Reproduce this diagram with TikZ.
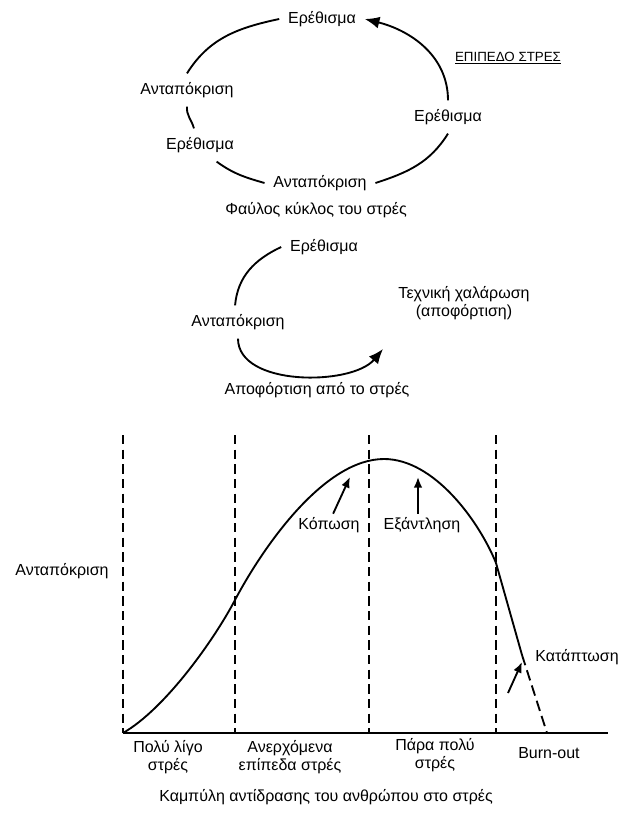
\documentclass[tikz,border=0pt]{standalone}
\usepackage{fontspec}
\setmainfont{Liberation Sans}
\usetikzlibrary{arrows.meta}

\tikzset{
  lbl/.style={inner sep=6pt},
  txt/.style={inner sep=2pt, align=center},
  bigtip/.style={-{Latex[length=11pt,width=9pt]}},
  smalltip/.style={-{Latex[length=8pt,width=6.5pt]}},
  zone/.style={dash pattern=on 7pt off 4pt, line width=1.1pt},
}

\begin{document}
\begin{tikzpicture}[x=0.75pt, y=0.75pt, line width=1.4pt, font=\fontsize{12}{14}\selectfont]
\useasboundingbox (0,0) rectangle (622,-813);

% vicious circle
\node[lbl] (stimA) at (322,-19) {Ερέθισμα};
\node[lbl] (respA) at (187,-90) {Ανταπόκριση};
\node[lbl] (stimB) at (200,-145) {Ερέθισμα};
\node[lbl] (respB) at (320,-183) {Ανταπόκριση};
\node[lbl] (stimC) at (448,-117) {Ερέθισμα};
\node[txt] (viciousCap) at (316,-210) {Φαύλος κύκλος του στρές};
\node[txt, font=\fontsize{10}{12}\selectfont] (level) at (508,-58) {\underline{ΕΠΙΠΕΔΟ ΣΤΡΕΣ}};

\draw (stimA.west) to[out=192, in=58] (respA.north);
\draw (respA.south) to[out=-95, in=105] (stimB.110);
\draw (stimB.-45) to[out=-36, in=164] (respB.west);
\draw (respB.east) to[out=18, in=-122] (stimC.south);
\draw[bigtip] (stimC.north) to[out=90, in=-14] (stimA.east);

% relief
\node[lbl] (stimR) at (324,-247) {Ερέθισμα};
\node[lbl] (respR) at (238,-322) {Ανταπόκριση};
\node[txt] (relax) at (464,-303) {Τεχνική χαλάρωση\\(αποφόρτιση)};
\node[txt] (reliefCap) at (317,-390) {Αποφόρτιση από το στρές};
\coordinate (relaxTip) at (383,-349);

\draw (stimR.west) to[out=205, in=85] (respR.100);
\draw[bigtip] (respR.south) to[out=-90, in=230, looseness=0.85] (relaxTip);

% response curve
\draw[zone] (123,-435) -- (123,-733);
\draw[zone] (235,-435) -- (235,-733);
\draw[zone] (369,-435) -- (369,-733);
\draw[zone] (496,-435) -- (496,-733);
\draw (123,-733) -- (608,-733);

\draw (123,-733) .. controls (165,-709) and (214,-640) .. (235,-600)
  .. controls (263,-547) and (324,-459) .. (384,-459)
  .. controls (434,-459) and (479,-521) .. (496,-563)
  -- (522,-655);
\draw[dash pattern=on 8pt off 4pt] (522,-655) -- (547,-733);

\node[txt] (respAxis) at (62,-571) {Ανταπόκριση};
\node[txt] (fatigue) at (329,-525) {Κόπωση};
\node[txt] (exhaust) at (422,-525) {Εξάντληση};
\node[txt] (collapse) at (577,-657) {Κατάπτωση};
\coordinate (fatigueTip) at (350,-477);
\coordinate (exhaustTip) at (418,-477);
\coordinate (collapseTail) at (508,-693);
\coordinate (collapseTip) at (522,-662);

\draw[smalltip] (fatigue.70) -- (fatigueTip);
\draw[smalltip] (exhaust.north -| exhaustTip) -- (exhaustTip);
\draw[smalltip] (collapseTail) -- (collapseTip);

\node[txt] (zoneA) at (168,-757) {Πολύ λίγο\\στρές};
\node[txt] (zoneB) at (290,-757) {Ανερχόμενα\\επίπεδα στρές};
\node[txt] (zoneC) at (435,-755) {Πάρα πολύ\\στρές};
\node[txt] (zoneD) at (549,-753) {Burn-out};
\node[txt] (curveCap) at (326,-797) {Καμπύλη αντίδρασης του ανθρώπου στο στρές};

\end{tikzpicture}
\end{document}
